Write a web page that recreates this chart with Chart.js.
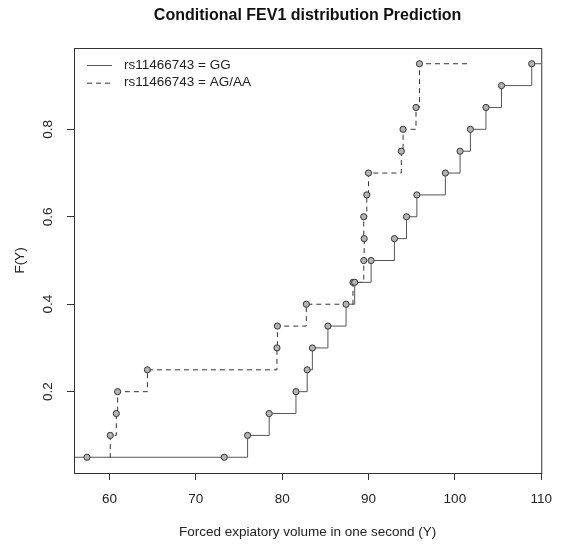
<!DOCTYPE html>
<html>
<head>
<meta charset="utf-8">
<script src="https://cdn.jsdelivr.net/npm/chart.js@4/dist/chart.umd.min.js"></script>
<style>
  html, body { margin: 0; padding: 0; background: #fff; }
  #wrap { width: 563px; height: 546px; }
</style>
</head>
<body>
<div id="wrap"><canvas id="chart"></canvas></div>
<script>
var title = 'Conditional FEV1 distribution Prediction';
var xTitle = 'Forced expiatory volume in one second (Y)';
var yTitle = 'F(Y)';
var xTicks = [60, 70, 80, 90, 100, 110];
var yTicks = [0.2, 0.4, 0.6, 0.8];
var seriesNames = ['rs11466743 = GG', 'rs11466743 = AG/AA'];

// first and last entries are where the step line starts / ends (no marker)
var ggX = [55.9, 57.4, 73.3, 76.0, 78.5, 81.6, 82.9, 83.5, 85.3, 87.4, 88.4, 90.3, 93.0, 94.4, 95.6, 98.9, 100.6, 101.8, 103.6, 105.4, 108.9, 110];
var ggY = [0.05, 0.05, 0.05, 0.10, 0.15, 0.20, 0.25, 0.30, 0.35, 0.40, 0.45, 0.50, 0.55, 0.60, 0.65, 0.70, 0.75, 0.80, 0.85, 0.90, 0.95, 0.95];

var agX = [60.0, 60.1, 60.8, 60.95, 64.4, 79.4, 79.45, 82.8, 88.2, 89.45, 89.5, 89.45, 89.8, 90.0, 93.8, 94.0, 95.5, 95.9, 101.8];
var agY = [0.05, 0.10, 0.15, 0.20, 0.25, 0.30, 0.35, 0.40, 0.45, 0.50, 0.55, 0.60, 0.65, 0.70, 0.75, 0.80, 0.85, 0.95, 0.95];

var FONT = '"Liberation Sans", Arial, Helvetica, sans-serif';

function pairs(xs, ys) {
  return xs.map(function (x, i) { return { x: x, y: ys[i] }; });
}

function markerRadius(c) {
  var n = c.dataset.data.length;
  return (c.dataIndex === 0 || c.dataIndex === n - 1) ? 0 : 3.1;
}

var framePlugin = {
  id: 'frame',
  afterDraw: function (chart) {
    var ctx = chart.ctx;
    var a = chart.chartArea;
    ctx.save();
    ctx.strokeStyle = '#333';
    ctx.lineWidth = 1;
    ctx.setLineDash([]);
    ctx.strokeRect(a.left + 0.5, a.top + 0.5, a.right - a.left, a.bottom - a.top);

    ctx.fillStyle = '#111';
    ctx.textAlign = 'center';
    ctx.textBaseline = 'middle';
    ctx.font = 'bold 16px ' + FONT;
    ctx.fillText(title, (a.left + a.right) / 2, 16);

    // y tick labels, rotated like R's default
    ctx.fillStyle = '#222';
    ctx.font = '13.5px ' + FONT;
    var ys = chart.scales.y;
    yTicks.forEach(function (v) {
      ctx.save();
      ctx.translate(48, ys.getPixelForValue(v));
      ctx.rotate(-Math.PI / 2);
      ctx.fillText(v.toFixed(1), 0, 0);
      ctx.restore();
    });

    // legend top-left inside plot
    var lx = a.left + 13, ly = a.top + 17;
    ctx.textAlign = 'left';
    chart.data.datasets.forEach(function (ds, i) {
      var y = ly + i * 17.7;
      ctx.strokeStyle = ds.borderColor;
      ctx.setLineDash(ds.borderDash || []);
      ctx.beginPath();
      ctx.moveTo(lx, y + 0.5);
      ctx.lineTo(lx + 25, y + 0.5);
      ctx.stroke();
      ctx.setLineDash([]);
      ctx.fillStyle = '#222';
      ctx.fillText(seriesNames[i], lx + 37, y);
    });
    ctx.restore();
  }
};

var chartCtx = document.getElementById('chart').getContext('2d');

var chart = new Chart(chartCtx, {
  type: 'line',
  data: {
    datasets: [{
      label: seriesNames[0],
      data: pairs(ggX, ggY),
      stepped: 'before',
      borderColor: '#555',
      borderWidth: 1,
      pointRadius: markerRadius,
      pointBackgroundColor: '#b4b4b4',
      pointBorderColor: '#333',
      pointBorderWidth: 1
    }, {
      label: seriesNames[1],
      data: pairs(agX, agY),
      stepped: 'before',
      borderColor: '#333',
      borderWidth: 1,
      borderDash: [5, 4],
      pointRadius: markerRadius,
      pointBackgroundColor: '#b4b4b4',
      pointBorderColor: '#333',
      pointBorderWidth: 1
    }]
  },
  options: {
    responsive: true,
    maintainAspectRatio: false,
    animation: false,
    layout: { padding: { top: 48, right: 14, left: 0, bottom: 0 } },
    plugins: {
      legend: { display: false },
      tooltip: { enabled: false }
    },
    scales: {
      x: {
        type: 'linear',
        min: 55.9,
        max: 110,
        afterBuildTicks: function (s) { s.ticks = xTicks.map(function (v) { return { value: v }; }); },
        afterFit: function (s) { s.height = 73; },
        border: { display: false },
        grid: { drawOnChartArea: false, drawTicks: true, tickLength: 7, color: '#333' },
        ticks: { color: '#222', padding: 11, maxRotation: 0, font: { family: FONT, size: 13.5 } },
        title: { display: true, text: xTitle, color: '#222', padding: { top: 0, bottom: 6 }, font: { family: FONT, size: 13.5 } }
      },
      y: {
        type: 'linear',
        min: 0.014,
        max: 0.986,
        afterBuildTicks: function (s) { s.ticks = yTicks.map(function (v) { return { value: v }; }); },
        afterFit: function (s) { s.width = 74; },
        border: { display: false },
        grid: { drawOnChartArea: false, drawTicks: true, tickLength: 7, color: '#333' },
        ticks: { display: false },
        title: { display: true, text: yTitle, color: '#222', padding: { top: 12, bottom: 0 }, font: { family: FONT, size: 13.5 } }
      }
    }
  },
  plugins: [framePlugin]
});
</script>
</body>
</html>
